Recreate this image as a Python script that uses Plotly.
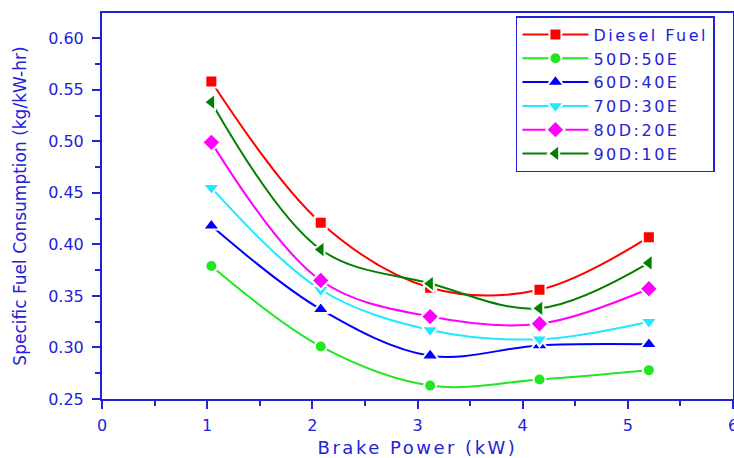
import plotly.graph_objects as go

brake_power = [1.04, 2.08, 3.12, 4.16, 5.2]
series_names = ["Diesel Fuel", "50D:50E", "60D:40E", "70D:30E", "80D:20E", "90D:10E"]
diesel = [0.558, 0.421, 0.358, 0.356, 0.407]
d50e50 = [0.379, 0.301, 0.263, 0.269, 0.278]
d60e40 = [0.418, 0.337, 0.292, 0.302, 0.303]
d70e30 = [0.455, 0.356, 0.317, 0.308, 0.325]
d80e20 = [0.499, 0.365, 0.330, 0.323, 0.357]
d90e10 = [0.538, 0.395, 0.362, 0.338, 0.382]
series_values = [diesel, d50e50, d60e40, d70e30, d80e20, d90e10]

colors = ["#ff0000", "#22e622", "#0000ff", "#22e8ff", "#ff00ff", "#008000"]
symbols = ["square", "circle", "triangle-up", "triangle-down", "diamond", "triangle-left"]
sizes = [12, 12, 15, 15, 14, 15]

AX = "#2222d8"
FONT = "DejaVu Sans"


def spaced(text, px):
    return f"<span style='letter-spacing:{px}px'>{text}</span>"


fig = go.Figure()
for name, vals, c, s, sz in zip(series_names, series_values, colors, symbols, sizes):
    fig.add_trace(go.Scatter(
        x=brake_power, y=vals, name=spaced(name, 2.5), mode="lines+markers",
        line=dict(color=c, width=2, shape="spline", smoothing=1),
        marker=dict(symbol=s, size=sz, color=c, line=dict(color="white", width=2)),
    ))

fig.update_layout(
    width=734, height=458,
    margin=dict(l=102, r=1, t=13, b=59, autoexpand=False),
    paper_bgcolor="white", plot_bgcolor="white",
    font=dict(family=FONT, color=AX, size=16),
    showlegend=True,
    legend=dict(
        x=0.656, y=0.992, xanchor="left", yanchor="top",
        bordercolor=AX, borderwidth=1.5, bgcolor="white",
        font=dict(family=FONT, size=16, color=AX),
        itemwidth=66, tracegroupgap=0,
    ),
)
fig.update_xaxes(
    range=[0, 6], tickmode="linear", tick0=0, dtick=1, automargin=False,
    showline=True, linecolor=AX, linewidth=2, mirror=True,
    ticks="outside", ticklen=8, tickwidth=1.5, tickcolor=AX,
    minor=dict(dtick=0.5, ticks="outside", ticklen=5, tickwidth=1.5, tickcolor=AX),
    showgrid=False, zeroline=False, ticklabelstandoff=3, ticklabeloverflow="allow",
    tickfont=dict(family=FONT, size=16, color=AX),
    title=dict(text=spaced("Brake Power (kW)", 2.5), font=dict(family=FONT, size=18, color=AX), standoff=13),
)
fig.update_yaxes(
    range=[0.25, 0.6245], tickmode="linear", tick0=0.25, dtick=0.05, tickformat=".2f",
    automargin=False,
    showline=True, linecolor=AX, linewidth=2, mirror=True,
    ticks="outside", ticklen=8, tickwidth=1.5, tickcolor=AX,
    minor=dict(dtick=0.025, ticks="outside", ticklen=5, tickwidth=1.5, tickcolor=AX),
    showgrid=False, zeroline=False, ticklabelstandoff=5,
    tickfont=dict(family=FONT, size=16, color=AX),
    title=dict(text="Specific Fuel Consumption (kg/kW-hr)", font=dict(family=FONT, size=17, color=AX), standoff=17),
)

fig.write_html(
    "out.html",
    config={"displayModeBar": False},
    post_script="document.body.style.margin='0';document.body.style.overflow='hidden';",
)
